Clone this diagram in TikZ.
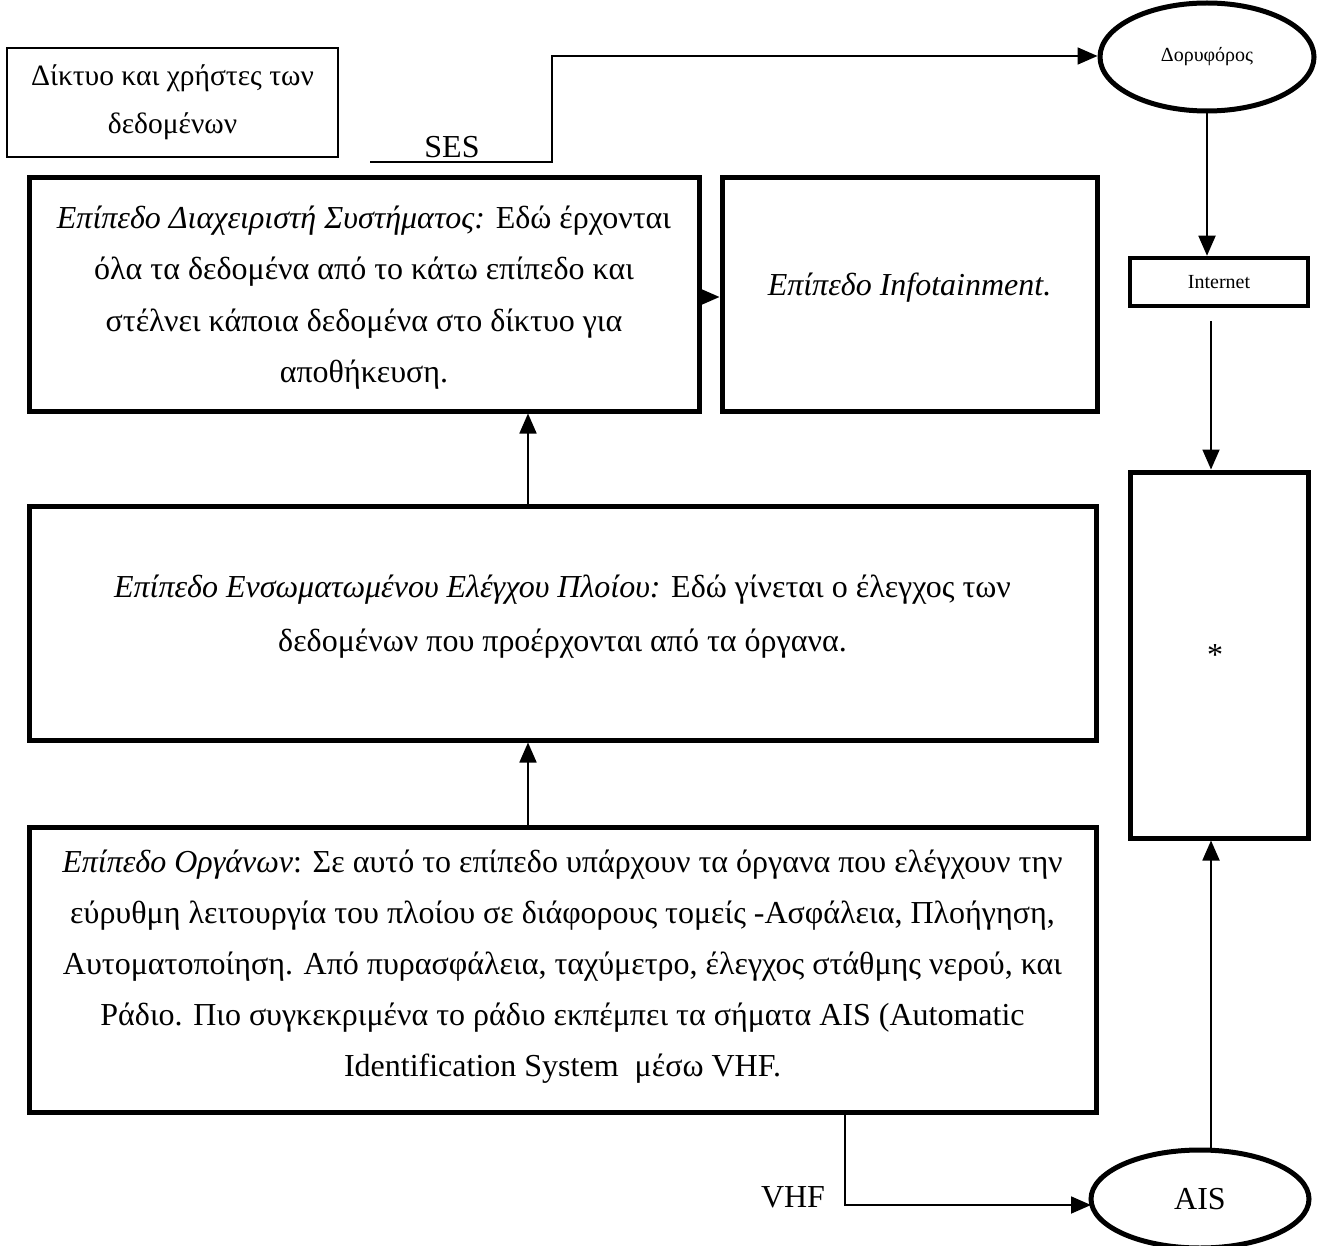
\documentclass[tikz,border=0pt]{standalone}
\usepackage{fontspec}
\setmainfont{Liberation Serif}
\usetikzlibrary{arrows.meta,shapes.geometric}

\tikzset{
  layer/.style={draw, line width=5pt, rectangle, align=center, inner sep=0pt,
                font=\fontsize{32}{52}\selectfont},
  layertext/.style={align=center, inner sep=0pt, font=\fontsize{32}{54}\selectfont},
  thinbox/.style={draw, line width=1.3pt, rectangle, align=center, inner sep=0pt,
                font=\fontsize{29.5}{48}\selectfont},
  oval/.style={draw, line width=5pt, ellipse, inner sep=0pt},
  arr/.style={line width=1.8pt, -{Triangle[length=20pt,width=17pt]}},
  tag/.style={font=\fontsize{32}{36}\selectfont, inner sep=0pt}
}

\begin{document}
\begin{tikzpicture}[x=1pt, y=-1pt]
  \useasboundingbox (0,0) rectangle (1317,1246);

  % data network box
  \node[thinbox, minimum width=331pt, minimum height=109pt] (net) at (172.5,102.5)
    {Δίκτυο και χρήστες των\\ δεδομένων};

  % system manager layer
  \node[layer, minimum width=670pt, minimum height=233pt] (mgr) at (364,294.5) {};
  \node[layertext, font=\fontsize{32}{51.5}\selectfont] (mgrText) at (364,297.5)
    {\textit{Επίπεδο Διαχειριστή Συστήματος:} Εδώ έρχονται\\
     όλα τα δεδομένα από το κάτω επίπεδο και\\
     στέλνει κάποια δεδομένα στο δίκτυο για\\
     αποθήκευση.};

  % infotainment layer
  \node[layer, minimum width=375pt, minimum height=233pt] (info) at (909.5,294.5) {};
  \node[layertext] (infoText) at (909.5,288) {\textit{Επίπεδο Infotainment.}};

  % embedded ship control layer
  \node[layer, minimum width=1067pt, minimum height=234pt] (ctrl) at (562.5,623) {};
  \node[layertext] (ctrlText) at (562.5,617)
    {\textit{Επίπεδο Ενσωματωμένου Ελέγχου Πλοίου:} Εδώ γίνεται ο έλεγχος των\\
     δεδομένων που προέρχονται από τα όργανα.};

  % instruments layer
  \node[layer, minimum width=1067pt, minimum height=285pt] (instr) at (562.5,969.5) {};
  \node[layertext, font=\fontsize{32}{51}\selectfont] (instrText) at (562.5,967)
    {\textit{Επίπεδο Οργάνων}: Σε αυτό το επίπεδο υπάρχουν τα όργανα που ελέγχουν την\\
     εύρυθμη λειτουργία του πλοίου σε διάφορους τομείς -Ασφάλεια, Πλοήγηση,\\
     Αυτοματοποίηση. Από πυρασφάλεια, ταχύμετρο, έλεγχος στάθμης νερού, και\\
     Ράδιο. Πιο συγκεκριμένα το ράδιο εκπέμπει τα σήματα AIS (Automatic\\
     Identification System\ \ μέσω VHF.};

  % right-hand column
  \node[oval, minimum width=214pt, minimum height=108pt,
        font=\fontsize{20}{22}\selectfont] (sat) at (1207,57) {Δορυφόρος};
  \node[layer, line width=4.5pt, minimum width=178pt, minimum height=48pt,
        font=\fontsize{20}{22}\selectfont] (inet) at (1219,282) {Internet};
  \node[layer, minimum width=178pt, minimum height=366pt] (star) at (1219,655) {};
  \node[layertext] (starText) at (1215,655) {*};
  \node[oval, minimum width=218pt, minimum height=98pt,
        font=\fontsize{32}{36}\selectfont] (ais) at (1200,1199) {AIS};

  % labels
  \node[tag] (ses) at (452,147) {SES};
  \node[tag] (vhf) at (793,1197) {VHF};

  % helper points for the routed connectors
  \coordinate (sesStart) at (370,162);
  \coordinate (sesBend) at (552,162);
  \coordinate (colA) at (528,0);
  \coordinate (satX) at (1207,0);
  \coordinate (inetOut) at (1211,321);
  \coordinate (aisTop) at (1211,1152);
  \coordinate (vhfX) at (845,0);
  \coordinate (vhfBend) at (845,1205);

  % connectors
  \draw[arr] (sesStart) -- (sesBend) -- (552,56) -- (sat.west |- 0,56);
  \draw[arr] (sat.south) -- (satX |- inet.north);
  \draw[arr] (inetOut) -- (inetOut |- star.north);
  \draw[arr] (aisTop) -- (aisTop |- star.south);
  \draw[arr] (mgr.east |- 0,297) -- (info.west |- 0,297);
  \draw[arr] (colA |- ctrl.north) -- (colA |- mgr.south);
  \draw[arr] (colA |- instr.north) -- (colA |- ctrl.south);
  \draw[arr] (vhfX |- instr.south) -- (vhfBend) -- (1091,1205);
\end{tikzpicture}
\end{document}
